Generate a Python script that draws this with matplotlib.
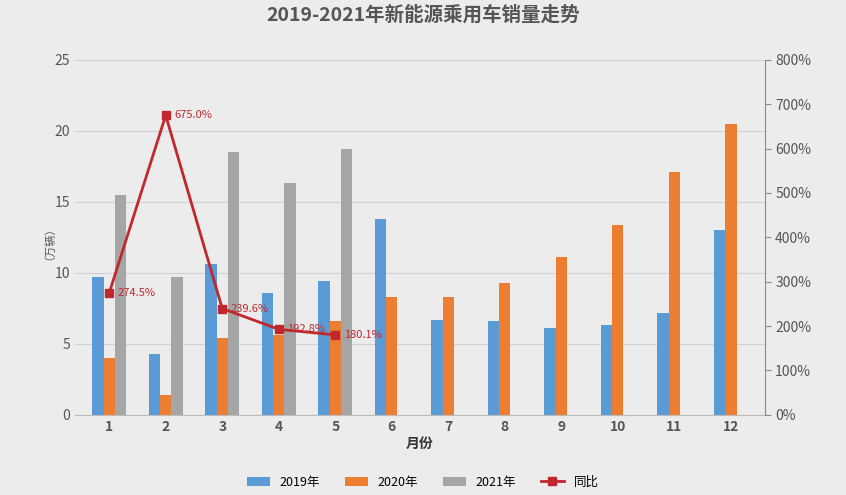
import matplotlib
matplotlib.use("Agg")
import matplotlib.pyplot as plt
import numpy as np

plt.rcParams['font.family'] = ['Noto Sans CJK SC', 'DejaVu Sans']

months = ['1','2','3','4','5','6','7','8','9','10','11','12']
s2019 = [9.7,4.3,10.6,8.6,9.4,13.8,6.7,6.6,6.1,6.3,7.2,13.0]
s2020 = [4.0,1.4,5.4,5.6,6.6,8.3,8.3,9.3,11.1,13.4,17.1,20.5]
s2021 = [15.5,9.7,18.5,16.3,18.7]
yoy = [274.5,675.0,239.6,192.8,180.1]
labels = ['2019年','2020年','2021年','同比']

fig = plt.figure(figsize=(8.46,4.95), dpi=100, facecolor='#ececec')
ax = fig.add_axes([0.089,0.162,0.815,0.717])
ax.set_facecolor('#ececec')
x = np.arange(len(months))
w = 0.2
b1 = ax.bar(x-w, s2019, w, color='#5b9bd5', label=labels[0])
b2 = ax.bar(x, s2020, w, color='#ed7d31', label=labels[1])
b3 = ax.bar(np.arange(len(s2021))+w, s2021, w, color='#a5a5a5', label=labels[2])
ax.set_ylim(0,25)
ax.set_xlim(-0.6,11.6)
ax.set_xticks(x)
ax.set_xticklabels(months, fontweight='bold', color='#555555')
ax.set_yticks(range(0,26,5))
ax.tick_params(axis='both', length=0, labelsize=10, colors='#555555')
ax.grid(axis='y', color='#d0d0d0', lw=0.8)
ax.set_axisbelow(True)
for s in ['top','right','left']:
    ax.spines[s].set_visible(False)
ax.spines['bottom'].set_color('#bbbbbb')
ax.set_xlabel('月份', fontweight='bold', fontsize=10, color='#333333', labelpad=2)
ax.set_ylabel('（万辆）', fontsize=8, color='#555555')

ax2 = ax.twinx()
ax2.set_ylim(0,800)
ax2.set_yticks(range(0,801,100))
ax2.set_yticklabels([f'{v}%' for v in range(0,801,100)])
ax2.tick_params(axis='y', labelsize=10, colors='#555555', length=4, direction='out', color='#888888')
for s in ['top','left','bottom']:
    ax2.spines[s].set_visible(False)
ax2.spines['right'].set_color('#888888')
l, = ax2.plot(np.arange(len(yoy)), yoy, color='#c0282d', lw=2, marker='s', ms=6, label=labels[3])
for i,v in enumerate(yoy):
    ax2.annotate(f'{v:.1f}%', (i,v), xytext=(6,0), textcoords='offset points', color='#c0282d', fontsize=8, va='center')

fig.text(0.5,0.97,'2019-2021年新能源乘用车销量走势', ha='center', va='center', fontsize=14, fontweight='bold', color='#555555')
fig.legend([b1,b2,b3,l], labels, loc='lower center', bbox_to_anchor=(0.5,-0.01), ncol=4, frameon=False, fontsize=9, handlelength=1.8)
fig.savefig('out.png', dpi=100, facecolor=fig.get_facecolor())
